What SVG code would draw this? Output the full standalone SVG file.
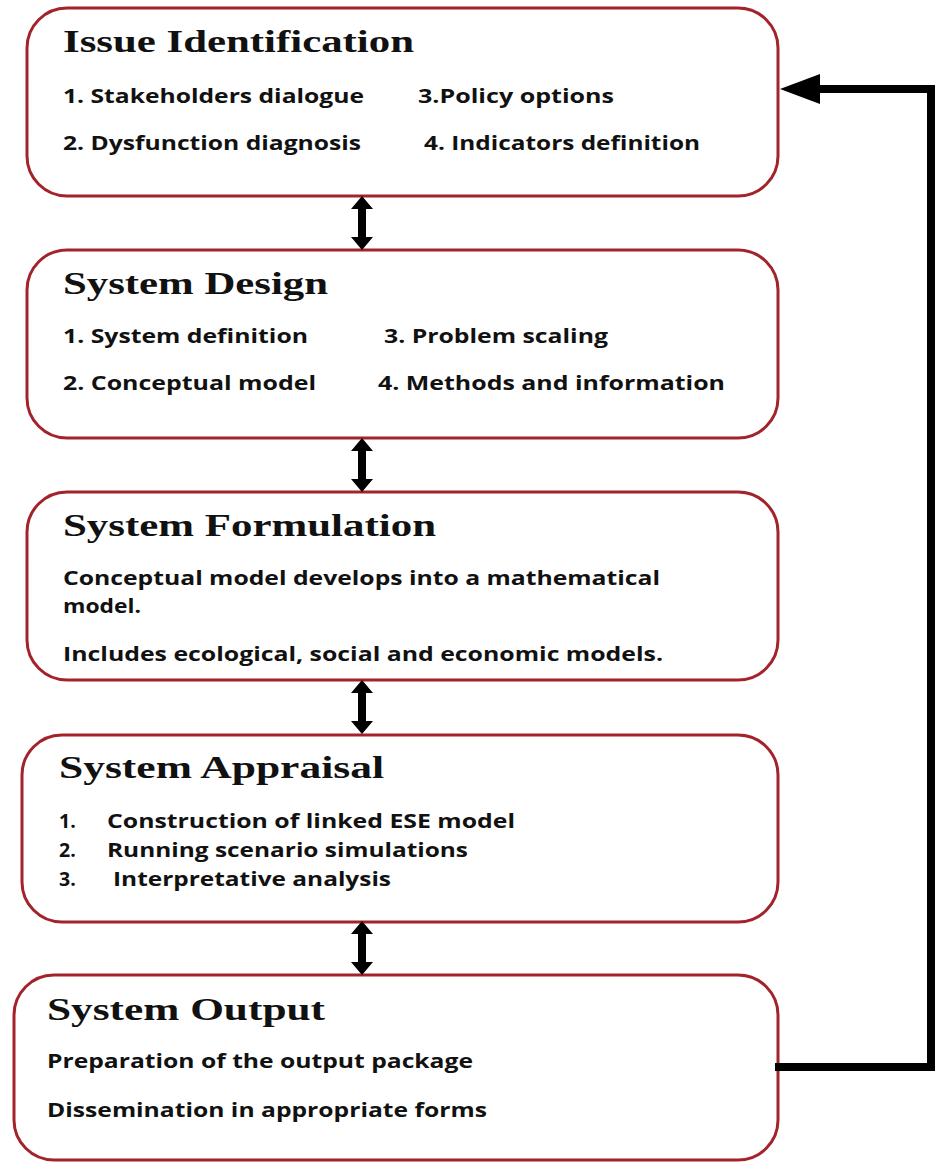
<svg xmlns="http://www.w3.org/2000/svg" width="936" height="1163" viewBox="0 0 936 1163">
<style>
.box{fill:#fff;stroke:#a3232b;stroke-width:3}
.t{font-family:"Liberation Serif","Times New Roman",serif;font-weight:bold;font-size:32px;fill:#111}
.b{font-family:"Open Sans","Noto Sans",sans-serif;font-weight:bold;font-size:19.5px;fill:#111}
.conn{fill:none;stroke:#000;stroke-width:8}
</style>
<defs>
<polygon id="dbl" points="0,-27 11,-14 4,-14 4,14 11,14 0,27 -11,14 -4,14 -4,-14 -11,-14"/>
</defs>
<rect width="936" height="1163" fill="#fff"/>
<g id="issue">
<rect class="box" x="27" y="8" width="751" height="188" rx="40"/>
<text class="t" x="63" y="52" textLength="351" lengthAdjust="spacingAndGlyphs">Issue Identification</text>
<text class="b" x="63" y="103" textLength="301" lengthAdjust="spacingAndGlyphs">1. Stakeholders dialogue</text>
<text class="b" x="418" y="103" textLength="196" lengthAdjust="spacingAndGlyphs">3.Policy options</text>
<text class="b" x="63" y="150" textLength="298" lengthAdjust="spacingAndGlyphs">2. Dysfunction diagnosis</text>
<text class="b" x="424" y="150" textLength="276" lengthAdjust="spacingAndGlyphs">4. Indicators definition</text>
</g>
<g id="design">
<rect class="box" x="27" y="250" width="751" height="188" rx="40"/>
<text class="t" x="63" y="294" textLength="265" lengthAdjust="spacingAndGlyphs">System Design</text>
<text class="b" x="63" y="343" textLength="245" lengthAdjust="spacingAndGlyphs">1. System definition</text>
<text class="b" x="384" y="343" textLength="224" lengthAdjust="spacingAndGlyphs">3. Problem scaling</text>
<text class="b" x="63" y="390" textLength="253" lengthAdjust="spacingAndGlyphs">2. Conceptual model</text>
<text class="b" x="378" y="390" textLength="347" lengthAdjust="spacingAndGlyphs">4. Methods and information</text>
</g>
<g id="formulation">
<rect class="box" x="27" y="492" width="751" height="188" rx="40"/>
<text class="t" x="63" y="536" textLength="373" lengthAdjust="spacingAndGlyphs">System Formulation</text>
<text class="b" x="63" y="585" textLength="597" lengthAdjust="spacingAndGlyphs">Conceptual model develops into a mathematical</text>
<text class="b" x="63" y="613" textLength="78" lengthAdjust="spacingAndGlyphs">model.</text>
<text class="b" x="63" y="661" textLength="600" lengthAdjust="spacingAndGlyphs">Includes ecological, social and economic models.</text>
</g>
<g id="appraisal">
<rect class="box" x="22" y="735" width="756" height="187" rx="40"/>
<text class="t" x="59" y="778" textLength="325" lengthAdjust="spacingAndGlyphs">System Appraisal</text>
<text class="b" x="59" y="828">1.</text>
<text class="b" x="107" y="828" textLength="408" lengthAdjust="spacingAndGlyphs">Construction of linked ESE model</text>
<text class="b" x="59" y="857">2.</text>
<text class="b" x="107" y="857" textLength="361" lengthAdjust="spacingAndGlyphs">Running scenario simulations</text>
<text class="b" x="59" y="886">3.</text>
<text class="b" x="113" y="886" textLength="278" lengthAdjust="spacingAndGlyphs">Interpretative analysis</text>
</g>
<g id="output">
<rect class="box" x="14" y="975" width="764" height="185" rx="40"/>
<text class="t" x="47" y="1020" textLength="278" lengthAdjust="spacingAndGlyphs">System Output</text>
<text class="b" x="47" y="1068" textLength="426" lengthAdjust="spacingAndGlyphs">Preparation of the output package</text>
<text class="b" x="47" y="1117" textLength="440" lengthAdjust="spacingAndGlyphs">Dissemination in appropriate forms</text>
</g>
<g id="connectors">
<use href="#dbl" x="362" y="223"/>
<use href="#dbl" x="362" y="465"/>
<use href="#dbl" x="362" y="707"/>
<use href="#dbl" x="362" y="948"/>
<polyline class="conn" points="775,1067 931,1067 931,89 816,89"/>
<polygon points="780,89 820,74 820,104" fill="#000"/>
</g>
</svg>
